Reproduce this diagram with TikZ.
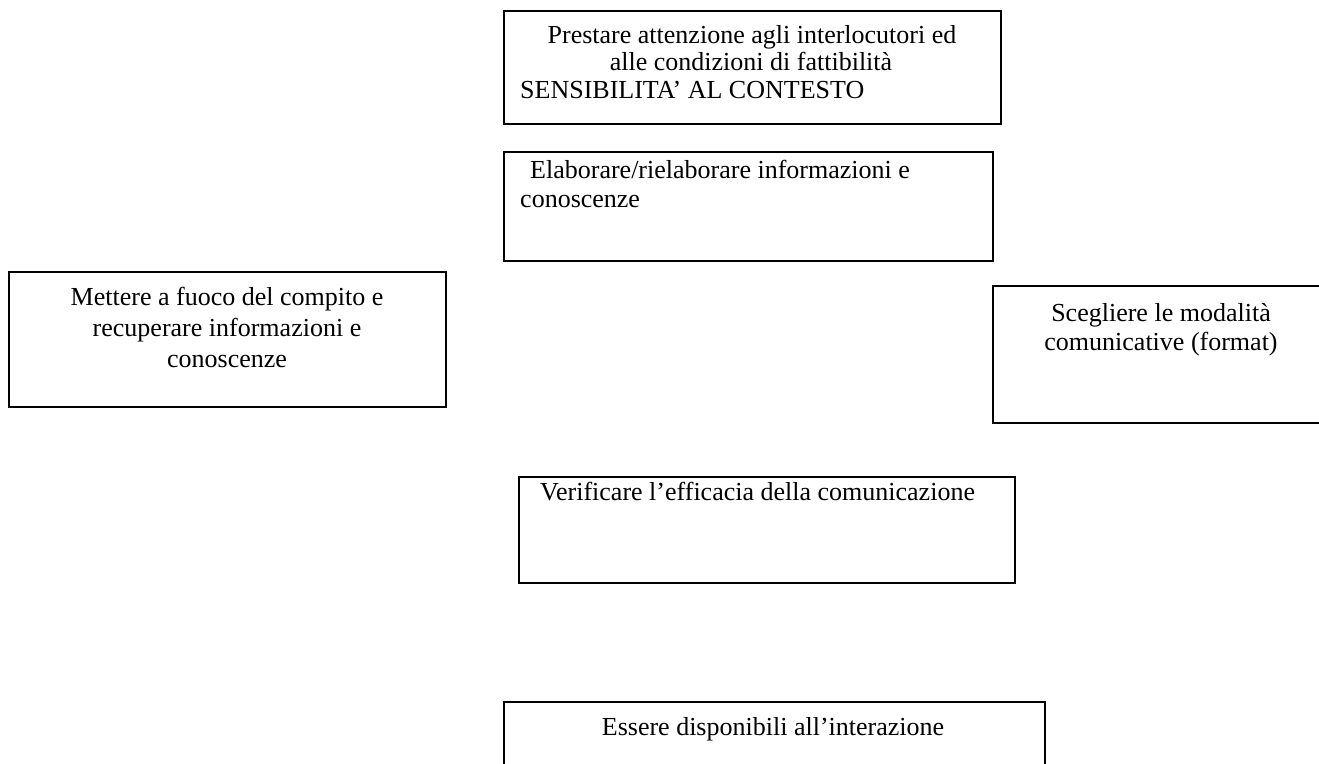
\documentclass[tikz,border=0pt]{standalone}
\usepackage{fontspec}
\setmainfont{Liberation Serif}
\newcommand{\fs}{\fontsize{26}{30}\selectfont}
\tikzset{
  box/.style={draw, line width=1.5pt, inner sep=0pt, anchor=north west},
  txt/.style={font=\fs, inner sep=0pt, anchor=base},
  ltxt/.style={font=\fs, inner sep=0pt, anchor=base west},
}
\begin{document}
\begin{tikzpicture}[x=1pt,y=-1pt]
\useasboundingbox (0,0) rectangle (1319,763);
% boxes
\node[box, minimum width=497pt, minimum height=113pt] (b1) at (503,10) {};
\node[box, minimum width=489pt, minimum height=109pt] (b2) at (503,151) {};
\node[box, minimum width=437pt, minimum height=135pt] (b3) at (8,271) {};
\node[box, minimum width=340pt, minimum height=137pt] (b4) at (992,285) {};
\node[box, minimum width=496pt, minimum height=106pt] (b5) at (518,476) {};
\node[box, minimum width=541pt, minimum height=80pt] (b6) at (503,701) {};
% texts
\node[txt] (t1a) at (752,43) {Prestare attenzione agli interlocutori ed};
\node[txt] (t1b) at (751,70.5) {alle condizioni di fattibilità};
\node[ltxt] (t1c) at (520,98) {SENSIBILITA’ AL CONTESTO};
\node[ltxt] (t2a) at (530,178) {Elaborare/rielaborare informazioni e};
\node[ltxt] (t2b) at (520,207) {conoscenze};
\node[txt] (t3a) at (227,305) {Mettere a fuoco del compito e};
\node[txt] (t3b) at (227,336) {recuperare informazioni e};
\node[txt] (t3c) at (227,367) {conoscenze};
\node[txt] (t4a) at (1161,321) {Scegliere le modalità};
\node[txt] (t4b) at (1161,350) {comunicative (format)};
\node[ltxt] (t5a) at (540,500) {Verificare l’efficacia della comunicazione};
\node[txt] (t6a) at (773,735) {Essere disponibili all’interazione};
\end{tikzpicture}
\end{document}
